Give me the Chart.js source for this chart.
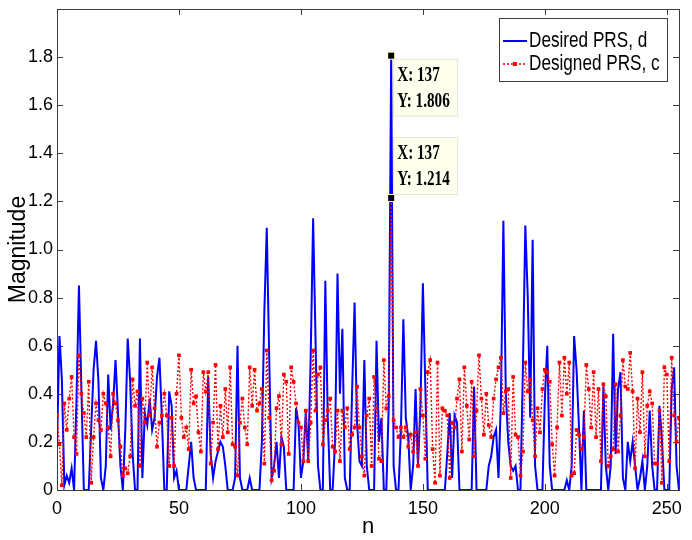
<!DOCTYPE html>
<html>
<head>
<meta charset="utf-8">
<script src="https://cdn.jsdelivr.net/npm/chart.js@4.4.1/dist/chart.umd.min.js"></script>
<style>
	html, body { margin: 0; padding: 0; background: #fff; }
	#wrap { width: 692px; height: 540px; }
</style>
</head>
<body>
<div id="wrap"><canvas id="prsChart" width="692" height="540"></canvas></div>
<script>
// series names (legend order = plot order)
const seriesNames = ['Desired PRS, d', 'Designed PRS, c'];

// desired PRS magnitude, n = 0..255
const desiredValues = [
	0.18, 0.64, 0.46, 0.02, 0.06, 0.03, 0.09, 0.00, 0.38, 0.85,
	0.42, 0.00, 0.00, 0.00, 0.25, 0.50, 0.62, 0.45, 0.05, 0.00,
	0.10, 0.48, 0.25, 0.36, 0.54, 0.32, 0.10, 0.00, 0.25, 0.63,
	0.45, 0.15, 0.00, 0.00, 0.63, 0.05, 0.32, 0.27, 0.38, 0.25,
	0.30, 0.47, 0.55, 0.30, 0.00, 0.00, 0.41, 0.35, 0.05, 0.08,
	0.00, 0.00, 0.00, 0.00, 0.10, 0.20, 0.05, 0.00, 0.00, 0.00,
	0.00, 0.00, 0.47, 0.15, 0.05, 0.12, 0.16, 0.20, 0.18, 0.10,
	0.00, 0.00, 0.00, 0.05, 0.60, 0.05, 0.00, 0.00, 0.00, 0.05,
	0.00, 0.00, 0.00, 0.00, 0.20, 0.74, 1.09, 0.55, 0.05, 0.10,
	0.20, 0.05, 0.22, 0.18, 0.00, 0.00, 0.00, 0.00, 0.34, 0.28,
	0.05, 0.12, 0.33, 0.12, 0.55, 1.13, 0.62, 0.10, 0.00, 0.00,
	0.87, 0.30, 0.00, 0.00, 0.20, 0.90, 0.40, 0.67, 0.05, 0.00,
	0.00, 0.42, 0.78, 0.28, 0.12, 0.10, 0.54, 0.10, 0.00, 0.00,
	0.00, 0.62, 0.20, 0.30, 0.00, 0.00, 0.35, 1.806, 0.10, 0.00,
	0.00, 0.25, 0.71, 0.30, 0.22, 0.00, 0.10, 0.42, 0.10, 0.35,
	0.86, 0.43, 0.00, 0.00, 0.00, 0.00, 0.00, 0.00, 0.00, 0.00,
	0.15, 0.32, 0.05, 0.31, 0.28, 0.00, 0.00, 0.00, 0.00, 0.00,
	0.00, 0.43, 0.00, 0.00, 0.00, 0.00, 0.00, 0.10, 0.14, 0.22,
	0.25, 0.05, 0.38, 1.12, 0.40, 0.20, 0.10, 0.08, 0.10, 0.00,
	0.00, 0.50, 1.10, 0.80, 0.30, 1.04, 0.10, 0.00, 0.00, 0.00,
	0.38, 0.60, 0.10, 0.00, 0.00, 0.00, 0.00, 0.00, 0.00, 0.04,
	0.00, 0.10, 0.64, 0.50, 0.26, 0.00, 0.33, 0.00, 0.00, 0.00,
	0.00, 0.00, 0.00, 0.00, 0.43, 0.10, 0.00, 0.10, 0.65, 0.15,
	0.42, 0.49, 0.05, 0.00, 0.20, 0.12, 0.20, 0.10, 0.00, 0.05,
	0.12, 0.00, 0.10, 0.33, 0.10, 0.00, 0.00, 0.35, 0.21, 0.00,
	0.00, 0.00, 0.42, 0.51, 0.10, 0.00
];

// designed PRS magnitude, n = 0..255
const designedValues = [
	0.31, 0.19, 0.02, 0.36, 0.25, 0.38, 0.47, 0.22, 0.15, 0.56,
	0.40, 0.32, 0.22, 0.45, 0.03, 0.22, 0.36, 0.29, 0.25, 0.40,
	0.36, 0.26, 0.14, 0.40, 0.36, 0.29, 0.18, 0.06, 0.09, 0.07,
	0.14, 0.46, 0.35, 0.41, 0.10, 0.38, 0.28, 0.53, 0.31, 0.51,
	0.34, 0.18, 0.28, 0.31, 0.40, 0.31, 0.10, 0.30, 0.10, 0.40,
	0.56, 0.30, 0.22, 0.26, 0.17, 0.50, 0.36, 0.39, 0.24, 0.16,
	0.49, 0.41, 0.49, 0.11, 0.28, 0.52, 0.17, 0.35, 0.22, 0.42,
	0.24, 0.51, 0.19, 0.18, 0.06, 0.28, 0.38, 0.26, 0.19, 0.51,
	0.35, 0.50, 0.33, 0.36, 0.42, 0.11, 0.58, 0.30, 0.04, 0.08,
	0.34, 0.39, 0.19, 0.48, 0.45, 0.15, 0.51, 0.45, 0.36, 0.28,
	0.26, 0.12, 0.33, 0.12, 0.28, 0.58, 0.33, 0.48, 0.51, 0.19,
	0.29, 0.33, 0.38, 0.18, 0.16, 0.33, 0.12, 0.33, 0.26, 0.34,
	0.17, 0.23, 0.26, 0.43, 0.26, 0.14, 0.06, 0.31, 0.38, 0.10,
	0.47, 0.34, 0.13, 0.12, 0.54, 0.34, 0.39, 1.214, 0.29, 0.26,
	0.22, 0.26, 0.22, 0.26, 0.18, 0.23, 0.16, 0.24, 0.10, 0.42,
	0.31, 0.13, 0.49, 0.54, 0.17, 0.03, 0.53, 0.06, 0.34, 0.33,
	0.31, 0.05, 0.28, 0.26, 0.38, 0.46, 0.16, 0.51, 0.35, 0.21,
	0.45, 0.14, 0.33, 0.56, 0.38, 0.23, 0.40, 0.27, 0.22, 0.38,
	0.46, 0.51, 0.55, 0.32, 0.41, 0.42, 0.05, 0.47, 0.23, 0.22,
	0.06, 0.16, 0.53, 0.41, 0.46, 0.29, 0.14, 0.34, 0.24, 0.42,
	0.50, 0.49, 0.45, 0.19, 0.06, 0.26, 0.53, 0.31, 0.55, 0.40,
	0.53, 0.06, 0.07, 0.25, 0.23, 0.17, 0.22, 0.52, 0.42, 0.26,
	0.49, 0.22, 0.42, 0.12, 0.44, 0.39, 0.10, 0.14, 0.17, 0.44,
	0.16, 0.31, 0.54, 0.43, 0.42, 0.57, 0.41, 0.09, 0.38, 0.24,
	0.49, 0.14, 0.35, 0.41, 0.36, 0.11, 0.11, 0.33, 0.03, 0.51,
	0.48, 0.12, 0.55, 0.31, 0.20, 0.30
];

// tick labels
const xTickValues = [0, 50, 100, 150, 200, 250];
const yTickValues = [0, 0.2, 0.4, 0.6, 0.8, 1, 1.2, 1.4, 1.6, 1.8];

// data tip sample (X: 137)
const dataTipIndex = 137;

const sansFont = "'Liberation Sans', Arial, sans-serif";
const tickLen = 6;

function toPoints(values) {
	return values.map((v, i) => ({x: i, y: v}));
}

// draw text squeezed horizontally (the original figure is narrow)
function squeezedText(ctx, text, x, y, sx) {
	ctx.save();
	ctx.translate(x, y);
	ctx.scale(sx, 1);
	ctx.fillText(text, 0, 0);
	ctx.restore();
}

let ctx = document.getElementById('prsChart').getContext('2d');
let prsChart = new Chart(ctx, {
	type: 'line',
	data: {
		datasets: [{
			label: seriesNames[0],
			data: toPoints(desiredValues),
			borderColor: '#0000ff',
			borderWidth: 2,
			pointRadius: 0,
			tension: 0,
			order: 1
		}, {
			label: seriesNames[1],
			data: toPoints(designedValues),
			borderColor: '#ff0000',
			backgroundColor: '#ff0000',
			borderWidth: 1.4,
			borderDash: [2, 2],
			pointStyle: 'rect',
			pointRadius: 2.6,
			pointBorderWidth: 0,
			pointBackgroundColor: '#ff0000',
			tension: 0,
			order: 0
		}]
	},
	options: {
		responsive: false,
		animation: false,
		devicePixelRatio: 1,
		layout: { padding: { top: 9, right: 13, left: 0, bottom: 0 } },
		scales: {
			x: {
				type: 'linear',
				min: 0,
				max: 255,
				grid: { display: false, drawTicks: false },
				border: { display: false },
				afterBuildTicks: scale => { scale.ticks = xTickValues.map(v => ({value: v})); },
				afterFit: scale => {
					scale.height = 50;
					scale.paddingLeft = 0;
					scale.paddingRight = 0;
				},
				ticks: {
					autoSkip: false,
					maxRotation: 0,
					padding: 8,
					color: '#000',
					font: { family: sansFont, size: 18 }
				},
				title: {
					display: true,
					text: 'n',
					color: '#000',
					padding: { top: 0, bottom: 0 },
					font: { family: sansFont, size: 22 }
				}
			},
			y: {
				min: 0,
				max: 2,
				grid: { display: false, drawTicks: false },
				border: { display: false },
				afterBuildTicks: scale => { scale.ticks = yTickValues.map(v => ({value: v})); },
				afterFit: scale => {
					scale.width = 57;
					scale.paddingTop = 0;
					scale.paddingBottom = 0;
				},
				ticks: {
					padding: 4,
					color: '#000',
					font: { family: sansFont, size: 18 }
				},
				title: {
					display: true,
					text: 'Magnitude',
					color: '#000',
					padding: { top: 5, bottom: 0 },
					font: { family: sansFont, size: 23 }
				}
			}
		},
		plugins: {
			legend: { display: false },
			tooltip: { enabled: false }
		}
	},
	plugins: [
		{
			// axes box with inward ticks on all four sides
			id: 'axesBox',
			beforeDatasetsDraw(chart) {
				const {ctx, chartArea: {left, right, top, bottom}, scales: {x, y}} = chart;
				ctx.save();
				ctx.strokeStyle = '#3c3c3c';
				ctx.lineWidth = 1;
				ctx.strokeRect(left + 0.5, top + 0.5, right - left, bottom - top);
				ctx.beginPath();
				x.ticks.forEach(t => {
					const px = Math.round(x.getPixelForValue(t.value)) + 0.5;
					ctx.moveTo(px, bottom); ctx.lineTo(px, bottom - tickLen);
					ctx.moveTo(px, top); ctx.lineTo(px, top + tickLen);
				});
				y.ticks.forEach(t => {
					const py = Math.round(y.getPixelForValue(t.value)) + 0.5;
					ctx.moveTo(left, py); ctx.lineTo(left + tickLen, py);
					ctx.moveTo(right, py); ctx.lineTo(right - tickLen, py);
				});
				ctx.stroke();
				ctx.restore();
			}
		},
		{
			// legend box (top right)
			id: 'prsLegend',
			afterDraw(chart) {
				const {ctx} = chart;
				const boxL = 499, boxT = 18, boxW = 168, boxH = 63;
				const rowY = [41, 64];
				ctx.save();
				ctx.fillStyle = '#fff';
				ctx.fillRect(boxL, boxT, boxW, boxH);
				ctx.strokeStyle = '#3c3c3c';
				ctx.lineWidth = 1;
				ctx.strokeRect(boxL + 0.5, boxT + 0.5, boxW, boxH);
				chart.data.datasets.forEach((ds, i) => {
					const yy = rowY[i];
					ctx.beginPath();
					ctx.strokeStyle = ds.borderColor;
					ctx.lineWidth = ds.borderWidth;
					ctx.setLineDash(ds.borderDash || []);
					ctx.moveTo(503, yy);
					ctx.lineTo(527, yy);
					ctx.stroke();
					ctx.setLineDash([]);
					if (ds.pointRadius > 0) {
						ctx.fillStyle = ds.pointBackgroundColor;
						ctx.fillRect(513, yy - 2, 4, 4);
					}
					ctx.fillStyle = '#000';
					ctx.font = '22px ' + sansFont;
					ctx.textAlign = 'left';
					ctx.textBaseline = 'middle';
					squeezedText(ctx, ds.label, 529, yy, 0.78);
				});
				ctx.restore();
			}
		},
		{
			// data tips at X: 137
			id: 'dataTips',
			afterDraw(chart) {
				const {ctx} = chart;
				const places = ['below', 'above'];
				chart.data.datasets.forEach((ds, i) => {
					const pt = chart.getDatasetMeta(i).data[dataTipIndex];
					const raw = ds.data[dataTipIndex];
					const w = 64, h = 57;
					const bx = pt.x + 2;
					const by = places[i] === 'below' ? pt.y + 3 : pt.y - 4 - h;
					ctx.save();
					ctx.fillStyle = '#ffffee';
					ctx.fillRect(bx, by, w, h);
					ctx.strokeStyle = '#e4e4d4';
					ctx.lineWidth = 1;
					ctx.strokeRect(bx + 0.5, by + 0.5, w, h);
					// marker
					ctx.fillStyle = '#ffffcc';
					ctx.fillRect(pt.x - 4, pt.y - 4, 8, 8);
					ctx.fillStyle = '#000';
					ctx.fillRect(pt.x - 3, pt.y - 3, 6, 6);
					// text
					ctx.font = "bold 20px 'Liberation Serif', 'Times New Roman', serif";
					ctx.textAlign = 'left';
					ctx.textBaseline = 'middle';
					const lines = ['X: ' + raw.x, 'Y: ' + raw.y.toFixed(3)];
					lines.forEach((s, k) => squeezedText(ctx, s, bx + 4, by + 17 + k * 26, 0.76));
					ctx.restore();
				});
			}
		}
	]
});
</script>
</body>
</html>
